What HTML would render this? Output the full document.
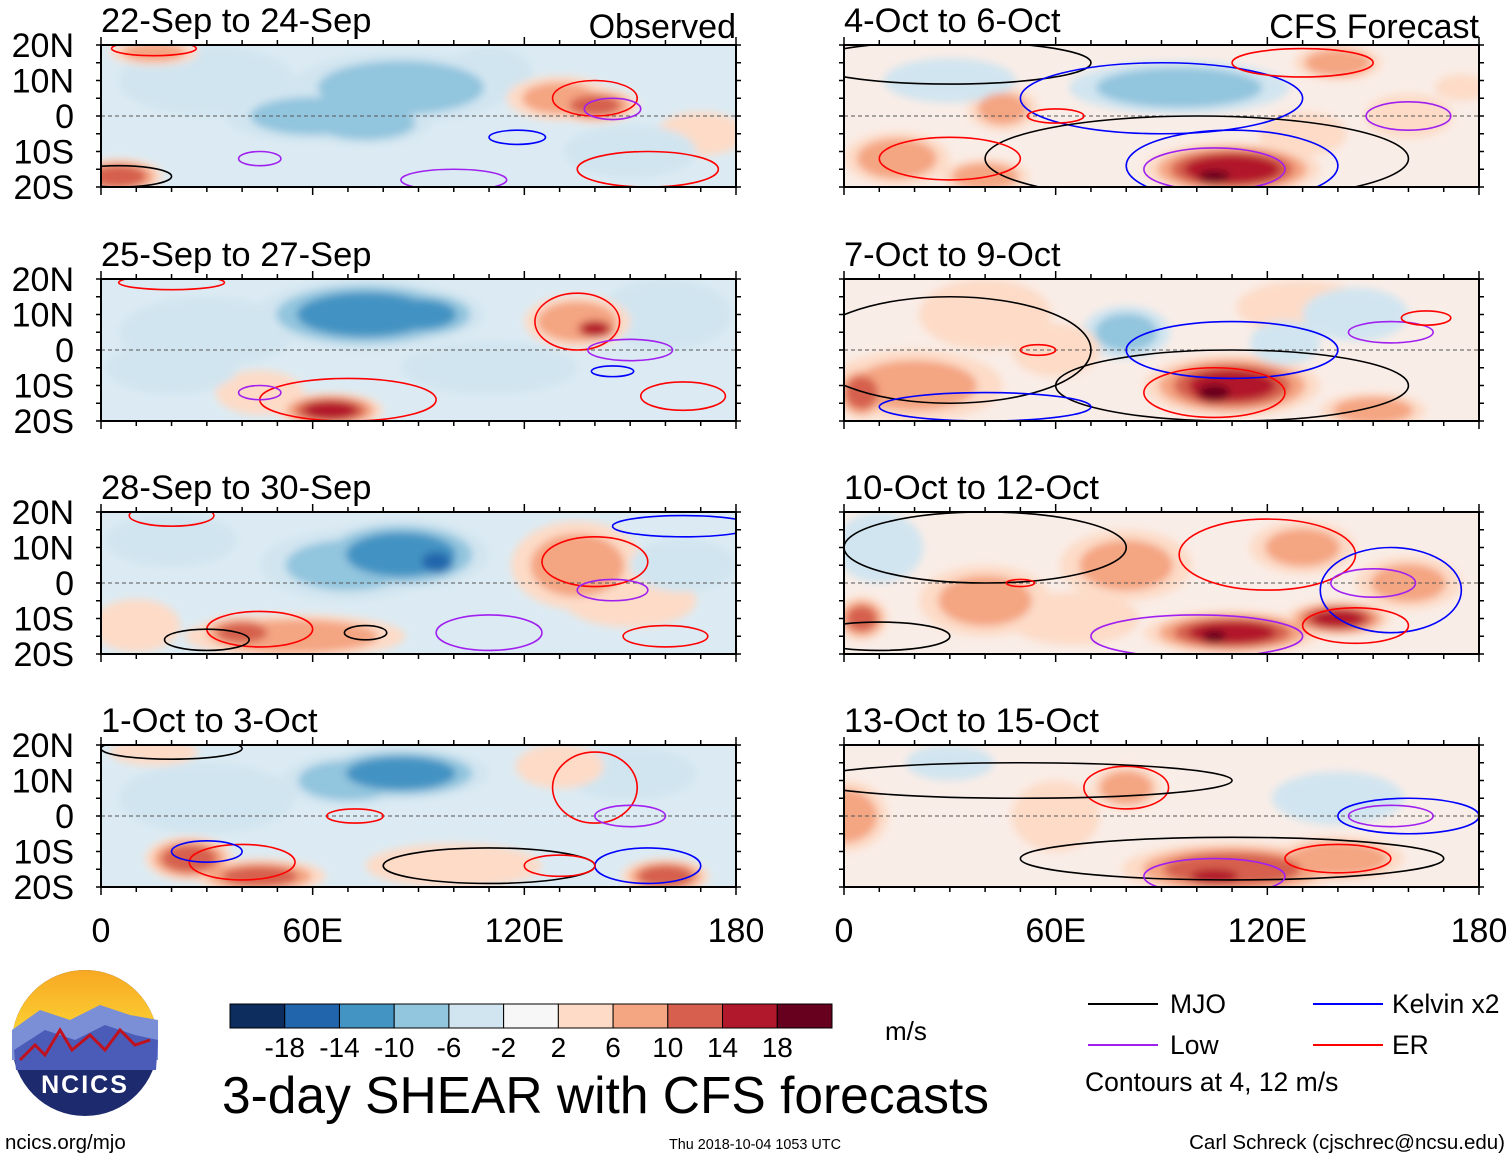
<!DOCTYPE html>
<html><head><meta charset="utf-8"><style>
html,body{margin:0;padding:0;background:#fff;}
svg{display:block;font-family:"Liberation Sans",sans-serif;}
</style></head><body>
<svg id="main" width="1510" height="1159" viewBox="0 0 1510 1159">
<defs>
<filter id="blur" x="-30%" y="-30%" width="160%" height="160%"><feGaussianBlur stdDeviation="4"/></filter>
<linearGradient id="sky" x1="0" y1="0" x2="0" y2="1"><stop offset="0" stop-color="#f7a823"/><stop offset="1" stop-color="#fdd835"/></linearGradient>
</defs>
<g id="panels"></g>
<g id="logo">
<circle cx="85" cy="1043" r="73" fill="#1e2a6e"/>
<path d="M12,1043 A73,73 0 0 1 158,1043 Z" fill="url(#sky)"/>
<path d="M12,1030 L40,1010 L70,1020 L100,1005 L130,1015 L158,1020 L158,1060 L12,1060 Z" fill="#7b8fd6"/>
<path d="M14,1050 L45,1030 L75,1040 L105,1025 L135,1035 L158,1040 L156,1070 L16,1070 Z" fill="#4a5cb8"/>
<path d="M20,1060 L35,1045 L45,1055 L60,1030 L72,1050 L90,1035 L105,1050 L120,1030 L135,1045 L150,1040" fill="none" stroke="#c0111f" stroke-width="3"/>
<text x="85" y="1093" text-anchor="middle" fill="#fff" font-size="25" font-weight="bold" letter-spacing="2">NCICS</text>
</g>
<g id="cbar"></g>
<text x="885" y="1040" font-size="26">m/s</text>
<text x="222" y="1113" font-size="51.5">3-day SHEAR with CFS forecasts</text>
<g>
<line x1="1088" y1="1004" x2="1158" y2="1004" stroke="#000" stroke-width="2"/><text x="1170" y="1013" font-size="26.5">MJO</text>
<line x1="1313" y1="1004" x2="1383" y2="1004" stroke="#0000ff" stroke-width="2"/><text x="1392" y="1013" font-size="26.5">Kelvin x2</text>
<line x1="1088" y1="1045" x2="1158" y2="1045" stroke="#a020f0" stroke-width="2"/><text x="1170" y="1054" font-size="26.5">Low</text>
<line x1="1313" y1="1045" x2="1383" y2="1045" stroke="#ff0000" stroke-width="2"/><text x="1392" y="1054" font-size="26.5">ER</text>
<text x="1085" y="1091" font-size="26.5">Contours at 4, 12 m/s</text>
</g>
<text x="5" y="1149" font-size="20.5">ncics.org/mjo</text>
<text x="755" y="1149" font-size="14.4" text-anchor="middle">Thu 2018-10-04 1053 UTC</text>
<text x="1505" y="1149" font-size="20.5" text-anchor="end">Carl Schreck (cjschrec@ncsu.edu)</text>
</svg>
<script>
const titles=["22-Sep to 24-Sep","25-Sep to 27-Sep","28-Sep to 30-Sep","1-Oct to 3-Oct","4-Oct to 6-Oct","7-Oct to 9-Oct","10-Oct to 12-Oct","13-Oct to 15-Oct"];
const binEdges=[-18,-14,-10,-6,-2,2,6,10,14,18];
const binColors=["#0c2d5e","#2166ac","#4393c3","#92c5de","#d1e5f0","#f7f7f7","#fddbc7","#f4a582","#d6604d","#b2182b","#67001f"];
const cbLabels=["-18","-14","-10","-6","-2","2","6","10","14","18"];
const latTicks=["20N","10N","0","10S","20S"];
const lonTicks=["0","60E","120E","180"];
// blobs: [lon, lat, value, rxDeg, ryDeg]
const blobs1=[[30,10,-6,20,8],[85,8,-10,25,8],[60,0,-8,20,6],[75,-2,-10,15,5],[110,12,-6,10,6],[130,5,8,12,5],[140,3,12,10,4],[5,-17,14,10,4],[15,18,8,10,3],[170,-5,4,10,5],[150,-10,-6,15,6]];
const blobs2=[[30,5,-6,20,8],[160,10,-6,15,8],[110,-5,-4,20,6],[75,10,-14,25,8],[90,10,-12,15,6],[65,-17,16,12,4],[135,8,10,12,6],[140,6,16,6,3],[45,-12,4,10,5],[20,-5,-6,15,6]];
const blobs3=[[20,12,-6,15,6],[70,5,-8,20,8],[85,8,-14,20,8],[95,6,-18,6,4],[55,-15,10,25,5],[40,-14,12,10,4],[135,5,8,15,10],[150,-5,6,15,6],[10,-12,6,10,6],[165,5,-6,12,6]];
const blobs4=[[150,12,-4,15,6],[70,10,-10,15,6],[85,12,-14,20,6],[100,-14,4,20,5],[25,-12,14,10,5],[45,-17,12,15,4],[160,-17,14,10,4],[130,14,6,10,5],[15,18,6,10,3],[30,5,-6,20,8]];
const blobs5=[[95,8,-10,25,6],[45,2,8,8,5],[15,-12,10,12,6],[110,-15,18,20,6],[105,-17,20,8,3],[40,-17,10,10,4],[140,15,10,10,4],[130,-5,6,10,5],[160,0,4,10,5],[175,8,6,6,3],[30,10,-4,15,5]];
const blobs6=[[40,10,6,15,8],[20,-10,8,20,8],[80,5,-8,10,6],[110,-10,16,20,7],[105,-12,20,8,4],[5,-12,14,6,6],[150,-17,10,12,4],[130,12,6,15,6],[60,0,6,10,6],[125,2,-6,8,5],[145,10,-4,12,6]];
const blobs7=[[10,10,-4,10,8],[40,-5,8,15,8],[80,5,8,15,8],[130,10,8,12,6],[160,0,8,12,6],[65,-10,6,15,6],[110,-14,16,20,5],[105,-15,20,6,3],[140,-10,16,12,4],[5,-10,12,6,5]];
const blobs8=[[140,5,-4,15,6],[30,15,-4,10,4],[60,0,4,10,8],[0,0,10,10,8],[80,8,10,8,5],[110,-15,14,25,6],[105,-17,18,10,3],[140,-12,10,15,5]];
const allBlobs=[blobs1,blobs2,blobs3,blobs4,blobs5,blobs6,blobs7,blobs8];
// contours: [lon, lat, rxDeg, ryDeg, type]
const cont1=[[15,19,12,2,"er"],[140,5,12,5,"er"],[145,2,8,3,"low"],[155,-15,20,5,"er"],[118,-6,8,2,"kelvin"],[45,-12,6,2,"low"],[100,-18,15,3,"low"],[5,-17,15,3,"mjo"]];
const cont2=[[135,8,12,8,"er"],[150,0,12,3,"low"],[145,-6,6,1.5,"kelvin"],[70,-14,25,6,"er"],[45,-12,6,2,"low"],[165,-13,12,4,"er"],[20,19,15,2,"er"]];
const cont3=[[20,19,12,3,"er"],[140,6,15,7,"er"],[145,-2,10,3,"low"],[110,-14,15,5,"low"],[45,-13,15,5,"er"],[75,-14,6,2,"mjo"],[30,-16,12,3,"mjo"],[160,-15,12,3,"er"],[165,16,20,3,"kelvin"]];
const cont4=[[20,19,20,3,"mjo"],[72,0,8,2,"er"],[140,8,12,10,"er"],[150,0,10,3,"low"],[40,-13,15,5,"er"],[30,-10,10,3,"kelvin"],[110,-14,30,5,"mjo"],[155,-14,15,5,"kelvin"],[130,-14,10,3,"er"]];
const cont5=[[30,15,40,6,"mjo"],[90,5,40,10,"kelvin"],[100,-12,60,12,"mjo"],[105,-15,20,6,"low"],[110,-14,30,10,"kelvin"],[30,-12,20,6,"er"],[60,0,8,2,"er"],[160,0,12,4,"low"],[130,15,20,4,"er"]];
const cont6=[[30,0,40,15,"mjo"],[110,-10,50,10,"mjo"],[110,0,30,8,"kelvin"],[105,-12,20,7,"er"],[155,5,12,3,"low"],[165,9,7,2,"er"],[40,-16,30,4,"kelvin"],[55,0,5,1.5,"er"]];
const cont7=[[40,10,40,10,"mjo"],[120,8,25,10,"er"],[155,-2,20,12,"kelvin"],[150,0,12,4,"low"],[100,-15,30,6,"low"],[145,-12,15,5,"er"],[50,0,4,1,"er"],[10,-15,20,4,"mjo"]];
const cont8=[[80,8,12,6,"er"],[50,10,60,5,"mjo"],[160,0,20,5,"kelvin"],[155,0,12,3,"low"],[110,-12,60,6,"mjo"],[105,-17,20,5,"low"],[140,-12,15,4,"er"]];
const allCont=[cont1,cont2,cont3,cont4,cont5,cont6,cont7,cont8];
const contColors={mjo:"#000000",kelvin:"#0000ff",low:"#a020f0",er:"#ff0000"};

const NS="http://www.w3.org/2000/svg";
function mk(tag,attrs,parent){const e=document.createElementNS(NS,tag);for(const k in attrs)e.setAttribute(k,attrs[k]);if(parent)parent.appendChild(e);return e;}
function colorOf(v){let i=0;while(i<binEdges.length&&v>binEdges[i])i++;return binColors[i];}
const colX=[101,844], rowY=[45,279,512,745], PW=635, PH=142;
const panels=document.getElementById('panels');
for(let p=0;p<8;p++){
  const col=p<4?0:1,row=p%4,x0=colX[col],y0=rowY[row];
  const xs=lon=>x0+lon/180*PW, ys=lat=>y0+(20-lat)/40*PH;
  const g=mk('g',{},panels);
  
  
  const cp=mk('clipPath',{id:'cp'+p},g);mk('rect',{x:x0,y:y0,width:PW,height:PH},cp);
  const inner=mk('g',{'clip-path':'url(#cp'+p+')'},g);
  mk('rect',{x:x0,y:y0,width:PW,height:PH,fill:col?'#f9ede7':'#dcebf3'},inner);
  const bg=mk('g',{filter:'url(#blur)'},inner);
  const shapes=[];
  allBlobs[p].forEach(b=>{
    const s=Math.sign(b[2]);const A=Math.abs(b[2]);
    for(let a=3;a<=A+0.1;a+=4){const f=1.25*(1-(a-3)/(A+3)*0.8);
      shapes.push({a:a,b:b,v:s*a,f:f});}
  });
  shapes.sort((m,n)=>m.a-n.a);
  shapes.forEach(sh=>{const b=sh.b;
    const el=mk('ellipse',{cx:xs(b[0]),cy:ys(b[1]),rx:b[3]/180*PW*sh.f,ry:b[4]/40*PH*sh.f,fill:colorOf(sh.v)},bg);
    
    });
  mk('line',{x1:x0,y1:ys(0),x2:x0+PW,y2:ys(0),stroke:'#555','stroke-dasharray':'4,3','stroke-width':1},inner);
  allCont[p].forEach(c=>{
    const el=mk('ellipse',{cx:xs(c[0]),cy:ys(c[1]),rx:c[2]/180*PW,ry:c[3]/40*PH,fill:'none',stroke:contColors[c[4]],'stroke-width':1.6},inner);
    
    
  });
  mk('rect',{x:x0,y:y0,width:PW,height:PH,fill:'none',stroke:'#000','stroke-width':2},g);
  for(let lon=0;lon<=180;lon+=10){const L=lon%60===0?8:5;
    mk('line',{x1:xs(lon),y1:y0,x2:xs(lon),y2:y0-L,stroke:'#000','stroke-width':1.5},g);
    mk('line',{x1:xs(lon),y1:y0+PH,x2:xs(lon),y2:y0+PH+L,stroke:'#000','stroke-width':1.5},g);}
  for(let lat=-20;lat<=20;lat+=5){
    mk('line',{x1:x0,y1:ys(lat),x2:x0-5,y2:ys(lat),stroke:'#000','stroke-width':1.5},g);
    mk('line',{x1:x0+PW,y1:ys(lat),x2:x0+PW+5,y2:ys(lat),stroke:'#000','stroke-width':1.5},g);}
  const t=mk('text',{x:x0,y:y0-13,'font-size':34.5},g);t.textContent=titles[p];
  
  
  if(row===0){const r=mk('text',{x:x0+PW,y:y0-7,'font-size':34,'text-anchor':'end'},g);r.textContent=col?'CFS Forecast':'Observed';
    
    }
  if(col===0){latTicks.forEach((lb,i)=>{const tt=mk('text',{x:74,y:y0+i*PH/4+12,'font-size':34,'text-anchor':'end'},g);tt.textContent=lb;
    
    });}
  if(row===3){lonTicks.forEach((lb,i)=>{const tt=mk('text',{x:x0+i*PW/3,y:942,'font-size':34,'text-anchor':'middle'},g);tt.textContent=lb;
    
    });}
}
const cb=document.getElementById('cbar');const cbx=230,cbw=602/11;
binColors.forEach((c,i)=>{const r=mk('rect',{x:cbx+i*cbw,y:1004,width:cbw,height:24,fill:c,stroke:'#000','stroke-width':1},cb);
  
  });
cbLabels.forEach((l,i)=>{const t=mk('text',{x:cbx+(i+1)*cbw,y:1057,'font-size':28,'text-anchor':'middle'},cb);t.textContent=l;
  
  });
</script>
</body></html>
